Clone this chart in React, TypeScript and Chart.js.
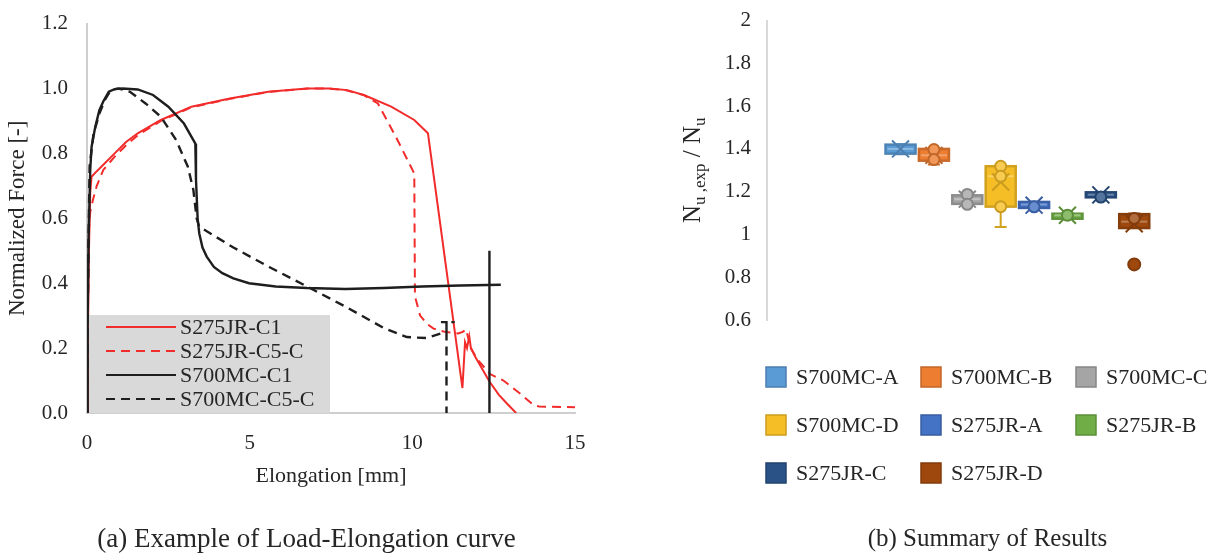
import React, { useEffect, useRef } from 'react';
import { Chart, registerables } from 'chart.js';
Chart.register(...registerables);

const FONT = "'Liberation Serif', 'Times New Roman', serif";
const TEXT = '#262626';

// ---------- Left chart: Load-Elongation curves ----------
const curveNames = ['S275JR-C1', 'S275JR-C5-C', 'S700MC-C1', 'S700MC-C5-C'];
const curveColors = ['#F22B2B', '#F22B2B', '#1E1E1E', '#1E1E1E'];
const curveDash: number[][] = [[], [9, 6], [], [9, 6]];
const curveWidths = [2, 2, 2.4, 2.4];

const s275c1X = [0, 0.03, 0.06, 0.1, 0.14, 0.25, 0.44, 0.85, 1.2, 1.56, 2.27, 3.21, 4.39, 5.57, 6.76, 7.46, 8.0, 8.53, 9.35, 10.06, 10.48, 11.54, 11.62, 11.68, 11.75, 11.8, 11.95, 12.37, 12.66, 12.9, 13.19];
const s275c1Y = [0, 0.25, 0.5, 0.68, 0.728, 0.74, 0.759, 0.8, 0.835, 0.862, 0.903, 0.944, 0.969, 0.99, 1.0, 1.0, 0.995, 0.979, 0.944, 0.903, 0.862, 0.077, 0.218, 0.2, 0.236, 0.2, 0.17, 0.097, 0.056, 0.03, 0.0];

const s275c5X = [0, 0.03, 0.05, 0.1, 0.18, 0.3, 0.5, 0.85, 1.2, 1.56, 2.27, 3.2, 4.4, 5.6, 6.8, 7.35, 7.94, 8.5, 8.94, 9.5, 10.06, 10.08, 10.24, 10.45, 10.65, 11.0, 11.41, 11.55, 11.65, 11.8, 12.0, 12.39, 12.8, 13.31, 13.72, 13.9, 15.0];
const s275c5Y = [0, 0.3, 0.55, 0.62, 0.656, 0.7, 0.749, 0.79, 0.825, 0.856, 0.9, 0.942, 0.968, 0.99, 1.0, 1.0, 0.995, 0.98, 0.954, 0.85, 0.738, 0.36, 0.3, 0.275, 0.26, 0.25, 0.245, 0.25, 0.258, 0.2, 0.165, 0.12, 0.1, 0.06, 0.025, 0.02, 0.018];

const s700c1X = [0, 0.02, 0.05, 0.1, 0.14, 0.25, 0.38, 0.5, 0.67, 0.85, 1.09, 1.56, 2.03, 2.5, 2.98, 3.27, 3.33, 3.35, 3.4, 3.45, 3.55, 3.68, 3.9, 4.16, 4.5, 4.98, 5.8, 6.76, 7.94, 9.12, 10.3, 11.48, 12.72, 12.72, 12.37, 12.37];
const s700c1Y: (number | null)[] = [0, 0.3, 0.55, 0.75, 0.82, 0.88, 0.933, 0.96, 0.99, 0.998, 1.0, 0.997, 0.98, 0.944, 0.892, 0.841, 0.83, 0.72, 0.6, 0.554, 0.51, 0.482, 0.45, 0.431, 0.415, 0.4, 0.39, 0.385, 0.382, 0.385, 0.39, 0.393, 0.395, null, 0.5, 0];

const s700c5X = [0, 0.02, 0.05, 0.08, 0.2, 0.38, 0.55, 0.73, 0.97, 1.32, 1.8, 2.27, 2.74, 3.1, 3.27, 3.37, 3.45, 4.5, 5.6, 6.76, 7.94, 9.12, 9.83, 10.42, 11.05, 11.05, 11.3, 11.3, 10.88, 11.05, 11.05];
const s700c5Y: (number | null)[] = [0, 0.3, 0.55, 0.76, 0.86, 0.923, 0.965, 0.995, 1.0, 0.99, 0.954, 0.913, 0.841, 0.759, 0.687, 0.6, 0.574, 0.51, 0.45, 0.39, 0.328, 0.262, 0.234, 0.231, 0.25, 0.28, 0.28, null, 0.28, 0.28, 0];

const curveXs = [s275c1X, s275c5X, s700c1X, s700c5X];
const curveYs = [s275c1Y, s275c5Y, s700c1Y, s700c5Y];

const xTicksLeft = [0, 5, 10, 15];

// ---------- Right chart: box plots ----------
const boxLabels = ['S700MC-A', 'S700MC-B', 'S700MC-C', 'S700MC-D', 'S275JR-A', 'S275JR-B', 'S275JR-C', 'S275JR-D'];
const boxColors = ['#5B9BD5', '#ED7D31', '#A5A5A5', '#F6BE26', '#4472C4', '#70AD47', '#2A5286', '#9E480E'];
const boxMin = [1.375, 1.327, 1.141, 1.035, 1.122, 1.085, 1.175, 1.03];
const boxQ1 = [1.378, 1.345, 1.143, 1.13, 1.124, 1.086, 1.176, 1.03];
const boxMedian = [1.4, 1.37, 1.165, 1.272, 1.14, 1.09, 1.186, 1.06];
const boxQ3 = [1.42, 1.4, 1.183, 1.319, 1.152, 1.097, 1.197, 1.095];
const boxMax = [1.422, 1.4, 1.187, 1.319, 1.153, 1.098, 1.198, 1.098];
const boxMean = [1.4, 1.37, 1.165, 1.245, 1.137, 1.09, 1.185, 1.05];
const innerPoints: number[][] = [[], [1.397, 1.35], [1.187, 1.141], [1.319, 1.272, 1.13], [1.129], [1.09], [1.175], [1.075]];
const outlierPoints: number[][] = [[], [], [], [], [], [], [], [0.86]];

function mix(hex: string, target: number, t: number) {
  const n = parseInt(hex.slice(1), 16);
  const r = n >> 16, g = (n >> 8) & 255, b = n & 255;
  const f = (c: number) => Math.round(c + (target - c) * t);
  return `rgb(${f(r)},${f(g)},${f(b)})`;
}

const leftLegendPlugin = {
  id: 'leftLegend',
  afterDatasetsDraw(chart: any) {
    const { ctx, chartArea } = chart;
    const left = chartArea.left + 2;
    const top = chartArea.bottom - 98;
    ctx.save();
    ctx.fillStyle = '#D9D9D9';
    ctx.fillRect(left, top, 241, 98);
    ctx.font = `22px ${FONT}`;
    ctx.textBaseline = 'middle';
    chart.data.datasets.forEach((ds: any, i: number) => {
      const cy = top + 12 + i * 24;
      ctx.strokeStyle = ds.borderColor;
      ctx.lineWidth = 2;
      ctx.setLineDash(ds.borderDash || []);
      ctx.beginPath();
      ctx.moveTo(left + 17, cy);
      ctx.lineTo(left + 87, cy);
      ctx.stroke();
      ctx.setLineDash([]);
      ctx.fillStyle = TEXT;
      ctx.fillText(ds.label, left + 91, cy + 1);
    });
    ctx.restore();
  },
};

const boxPlugin = {
  id: 'boxes',
  beforeDatasetsDraw(chart: any) {
    const { ctx } = chart;
    const x = chart.scales.x, y = chart.scales.y;
    const half = (x.getPixelForValue(1) - x.getPixelForValue(0)) * 0.45;
    ctx.save();
    boxLabels.forEach((_, i) => {
      const col = boxColors[i];
      const dark = mix(col, 0, 0.15);
      const light = mix(col, 255, 0.3);
      const cx = x.getPixelForValue(i + 1);
      const yMin = y.getPixelForValue(boxMin[i]);
      const yQ1 = y.getPixelForValue(boxQ1[i]);
      const yMed = y.getPixelForValue(boxMedian[i]);
      const yQ3 = y.getPixelForValue(boxQ3[i]);
      const yMax = y.getPixelForValue(boxMax[i]);
      ctx.lineWidth = 2;
      ctx.strokeStyle = dark;
      ctx.beginPath();
      ctx.moveTo(cx, yQ1); ctx.lineTo(cx, yMin);
      ctx.moveTo(cx - 6, yMin); ctx.lineTo(cx + 6, yMin);
      ctx.moveTo(cx, yQ3); ctx.lineTo(cx, yMax);
      ctx.moveTo(cx - 6, yMax); ctx.lineTo(cx + 6, yMax);
      ctx.stroke();
      ctx.fillStyle = col;
      const h = Math.max(yQ1 - yQ3, 5);
      ctx.fillRect(cx - half, yQ3, half * 2, h);
      ctx.lineWidth = 2.5;
      ctx.strokeRect(cx - half, yQ3, half * 2, h);
      ctx.lineWidth = 2;
      ctx.strokeStyle = light;
      ctx.beginPath();
      ctx.moveTo(cx - half + 2, yMed); ctx.lineTo(cx + half - 2, yMed);
      ctx.stroke();
    });
    ctx.restore();
  },
};

const rightDecorPlugin = {
  id: 'rightDecor',
  afterDraw(chart: any) {
    const { ctx, chartArea } = chart;
    ctx.save();
    ctx.translate(100, (chartArea.top + chartArea.bottom) / 2);
    ctx.rotate(-Math.PI / 2);
    const big = `25px ${FONT}`, small = `17px ${FONT}`;
    const parts: [string, string, number][] = [['N', big, 0], ['u ,exp', small, 5], [' / N', big, 0], ['u', small, 5]];
    let total = 0;
    parts.forEach(([t, f]) => { ctx.font = f; total += ctx.measureText(t).width; });
    let px = -total / 2;
    ctx.fillStyle = TEXT;
    ctx.textBaseline = 'alphabetic';
    parts.forEach(([t, f, dy]) => {
      ctx.font = f;
      ctx.fillText(t, px, dy);
      px += ctx.measureText(t).width;
    });
    ctx.restore();

    ctx.save();
    ctx.font = `22px ${FONT}`;
    ctx.textBaseline = 'middle';
    const colX = [-1, 154, 309];
    const rowY = [57, 105, 153];
    boxLabels.forEach((label, i) => {
      const sx = chartArea.left + colX[i % 3];
      const sy = chartArea.bottom + rowY[Math.floor(i / 3)];
      ctx.fillStyle = boxColors[i];
      ctx.fillRect(sx, sy - 10, 20, 20);
      ctx.strokeStyle = mix(boxColors[i], 0, 0.18);
      ctx.lineWidth = 1.5;
      ctx.strokeRect(sx, sy - 10, 20, 20);
      ctx.fillStyle = TEXT;
      ctx.fillText(label, sx + 30, sy + 1);
    });
    ctx.restore();
  },
};

export default function App() {
  const leftRef = useRef<HTMLCanvasElement>(null);
  const rightRef = useRef<HTMLCanvasElement>(null);

  useEffect(() => {
    const leftChart = new Chart(leftRef.current!, {
      type: 'line',
      data: {
        datasets: curveNames.map((name, i) => ({
          label: name,
          data: curveXs[i].map((xv, j) => ({ x: xv, y: curveYs[i][j] })),
          borderColor: curveColors[i],
          borderDash: curveDash[i],
          borderWidth: curveWidths[i],
          pointRadius: 0,
          tension: 0,
          fill: false,
          spanGaps: false,
          order: 3 - i,
        })) as any,
      },
      options: {
        animation: false,
        responsive: true,
        maintainAspectRatio: false,
        events: [],
        layout: { padding: { top: 15, right: 25, left: 0, bottom: 0 } },
        plugins: { legend: { display: false }, tooltip: { enabled: false } },
        scales: {
          x: {
            type: 'linear',
            min: 0,
            max: 15,
            afterBuildTicks: (s: any) => { s.ticks = xTicksLeft.map((v) => ({ value: v })); },
            afterFit: (s: any) => { s.height = 87; },
            grid: { display: false },
            border: { display: true, color: '#CFCFCF', width: 2 },
            ticks: { color: TEXT, font: { family: FONT, size: 21 }, padding: 10, maxRotation: 0 },
            title: { display: true, text: 'Elongation [mm]', color: TEXT, font: { family: FONT, size: 22 }, padding: { top: 0, bottom: 11 } },
          },
          y: {
            min: 0,
            max: 1.2,
            afterFit: (s: any) => { s.width = 87; },
            grid: { display: false },
            border: { display: true, color: '#CFCFCF', width: 2 },
            ticks: { stepSize: 0.2, color: TEXT, font: { family: FONT, size: 21 }, padding: 11, callback: (v: any) => Number(v).toFixed(1) },
            title: { display: true, text: 'Normalized Force [-]', color: TEXT, font: { family: FONT, size: 23 }, padding: { top: 4, bottom: 0 } },
          },
        },
      } as any,
      plugins: [leftLegendPlugin],
    });

    const rightChart = new Chart(rightRef.current!, {
      type: 'scatter',
      data: {
        datasets: boxLabels.map((label, i) => ({
          label,
          data: [
            { x: i + 1, y: boxMean[i], kind: 'mean' },
            ...innerPoints[i].map((v) => ({ x: i + 1, y: v, kind: 'inner' })),
            ...outlierPoints[i].map((v) => ({ x: i + 1, y: v, kind: 'out' })),
          ],
          pointStyle: (c: any) => (c.raw && c.raw.kind === 'mean' ? 'crossRot' : 'circle'),
          pointRadius: (c: any) => (c.raw && c.raw.kind === 'mean' ? 12 : c.raw && c.raw.kind === 'out' ? 6 : 5.5),
          borderColor: mix(boxColors[i], 0, 0.18),
          backgroundColor: (c: any) => (c.raw && c.raw.kind === 'out' ? boxColors[i] : mix(boxColors[i], 255, 0.2)),
          pointBorderWidth: 2,
          showLine: false,
        })) as any,
      },
      options: {
        animation: false,
        responsive: true,
        maintainAspectRatio: false,
        events: [],
        layout: { padding: { top: 13, right: 10, left: 0, bottom: 180 } },
        plugins: { legend: { display: false }, tooltip: { enabled: false } },
        scales: {
          x: { type: 'linear', min: -3, max: 10, display: false },
          y: {
            min: 0.6,
            max: 2,
            afterFit: (s: any) => { s.width = 167; },
            grid: { display: false },
            border: { display: true, color: '#D9D9D9', width: 2 },
            ticks: { stepSize: 0.2, color: TEXT, font: { family: FONT, size: 21 }, padding: 8, callback: (v: any) => String(Number(Number(v).toFixed(1))) },
          },
        },
      } as any,
      plugins: [boxPlugin, rightDecorPlugin],
    });

    return () => {
      leftChart.destroy();
      rightChart.destroy();
    };
  }, []);

  return (
    <div style={{ position: 'fixed', left: 0, top: 0, width: 1215, height: 554, background: '#fff', fontFamily: FONT, color: TEXT }}>
      <div style={{ position: 'absolute', left: 0, top: 0, width: 600, height: 500 }}>
        <canvas ref={leftRef} />
      </div>
      <div style={{ position: 'absolute', left: 600, top: 0, width: 615, height: 500 }}>
        <canvas ref={rightRef} />
      </div>
      <div style={{ position: 'absolute', left: 0, top: 521, width: 613, textAlign: 'center', fontSize: 27, lineHeight: '34px' }}>
        (a) Example of Load-Elongation curve
      </div>
      <div style={{ position: 'absolute', left: 760, top: 522, width: 455, textAlign: 'center', fontSize: 25, lineHeight: '32px' }}>
        (b) Summary of Results
      </div>
    </div>
  );
}
